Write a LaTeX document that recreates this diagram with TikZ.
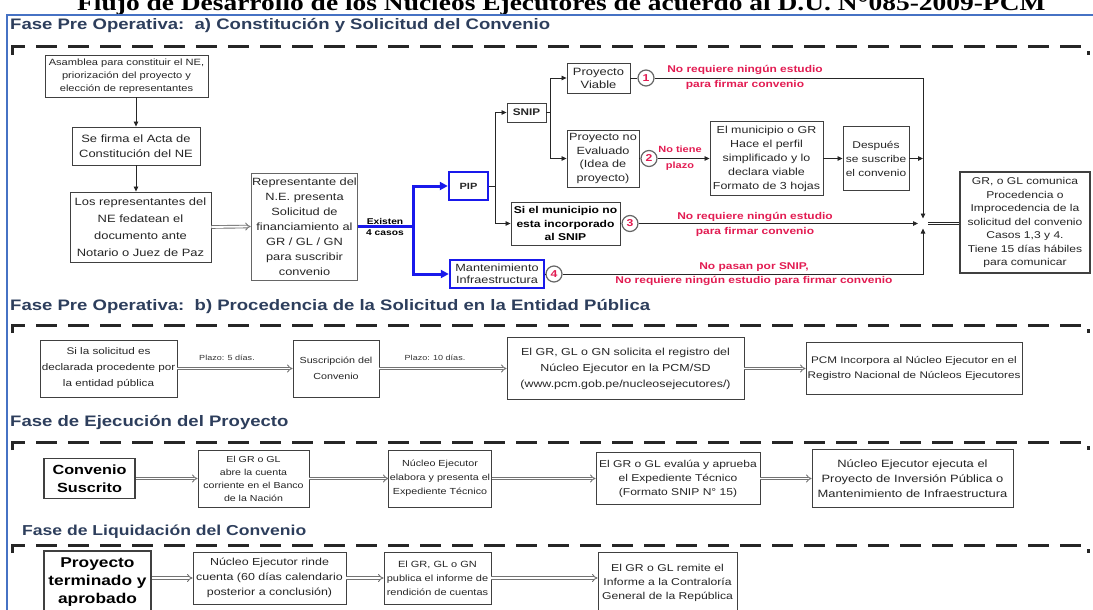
\documentclass[tikz,border=0pt]{standalone}
\usepackage{fontspec}
\setmainfont{Liberation Sans}[FakeStretch=1.22]
\newfontfamily\titlefont{Liberation Serif}[FakeStretch=1.22]
\usetikzlibrary{arrows.meta}
\definecolor{headblue}{RGB}{45,62,92}
\definecolor{frameblue}{RGB}{70,114,196}
\definecolor{pipblue}{RGB}{25,25,235}
\definecolor{notered}{RGB}{226,28,82}
\newcommand{\txtsz}[2]{\fontsize{#1}{#2}\selectfont}
\begin{document}
\begin{tikzpicture}[x=1pt,y=-1pt,
  box/.style={draw=black!75, line width=0.9pt, fill=white, align=center, inner sep=1pt, text=black!85, font=\txtsz{10}{14}},
  bluebox/.style={box, draw=pipblue, line width=2.4pt},
  boldbox/.style={box, line width=1.7pt, text=black},
  head/.style={anchor=west, inner sep=0pt, text=headblue, font=\bfseries\txtsz{15.2}{18}},
  phase/.style={line width=3pt, black!85, dash pattern=on 21pt off 11pt},
  arr/.style={draw=black!85, line width=0.8pt, -{Triangle[length=5pt,width=4.5pt]}},
  link/.style={draw=black!85, line width=0.8pt},
  bluearr/.style={draw=pipblue, line width=3pt, -{Triangle[length=8pt,width=8pt]}},
  dbl/.style={draw=black!55, line width=0.9pt, double=white, double distance=1.8pt, -{Implies}},
  dblthick/.style={draw=black!85, line width=1.2pt, double=white, double distance=1.4pt},
  num/.style={circle, draw=black!60, line width=1.2pt, fill=white, minimum size=16pt, inner sep=0pt, text=notered, font=\bfseries\txtsz{10}{10}},
  note/.style={align=center, inner sep=0pt, text=notered, font=\bfseries\txtsz{9.8}{15}},
  lab/.style={inner sep=0pt, text=black!80, font=\txtsz{7.4}{9}},
]
\path[use as bounding box] (0,0) rectangle (1093,610);
\clip (0,0) rectangle (1093,610);

% title and frame
\node[anchor=base west, inner sep=0pt, font=\titlefont\bfseries\txtsz{22.5}{24}] (title) at (77,11)
  {Flujo de Desarrollo de los Núcleos Ejecutores de acuerdo al D.U. N°085-2009-PCM};
\draw[frameblue, line width=2pt] (7,612) -- (7,15) -- (1095,15);

% phase headings and dashed separators
\node[head] (ha) at (10,26) {Fase Pre Operativa:\ \ a) Constitución y Solicitud del Convenio};
\draw[phase] (12,55) -- (12,47) -- (1088,47) -- (1088,55);
\node[head] (hb) at (10,307) {Fase Pre Operativa:\ \ b) Procedencia de la Solicitud en la Entidad Pública};
\draw[phase] (12,333) -- (12,325) -- (1088,325) -- (1088,333);
\node[head] (hc) at (10,422) {Fase de Ejecución del Proyecto};
\draw[phase] (12,450) -- (12,442) -- (1088,442) -- (1088,450);
\node[head, font=\bfseries\txtsz{14.4}{18}] (hd) at (22,532) {Fase de Liquidación del Convenio};
\draw[phase] (12,553) -- (12,545) -- (1088,545) -- (1088,553);

% ---- a) constitution and request
\node[box, minimum width=163pt, minimum height=42pt, font=\txtsz{9.1}{13}] (A) at (126.5,76)
  {Asamblea para constituir el NE,\\ priorización del proyecto y\\ elección de representantes};
\node[box, minimum width=128pt, minimum height=38pt, font=\txtsz{10.6}{15}] (B) at (136,146)
  {Se firma el Acta de\\ Constitución del NE};
\node[box, minimum width=141pt, minimum height=70pt, font=\txtsz{10.6}{17}] (C) at (140.5,227)
  {Los representantes del\\ NE fedatean el\\ documento ante\\ Notario o Juez de Paz};
\node[box, draw=black!60, minimum width=105pt, minimum height=107pt, font=\txtsz{10.5}{15}] (D) at (304.5,226.5)
  {Representante del\\ N.E. presenta\\ Solicitud de\\ financiamiento al\\ GR / GL / GN\\ para suscribir\\ convenio};
\draw[arr] (B.north |- A.south) -- (B.north);
\draw[arr] (B.south) -- (B.south |- C.north);
\draw[dbl] (C.east) -- (D.west);

\node[bluebox, minimum width=39pt, minimum height=28pt, font=\bfseries\txtsz{9}{12}] (PIP) at (468.5,186) {PIP};
\node[bluebox, minimum width=94pt, minimum height=28pt, font=\txtsz{10.4}{12.5}] (Mant) at (497,274)
  {Mantenimiento\\ Infraestructura};
\coordinate (bsplit) at (413,226.5);
\draw[pipblue, line width=3pt] (D.east) -- (bsplit);
\draw[bluearr] (bsplit) |- (PIP.west);
\draw[bluearr] (bsplit) |- (Mant.west);
\node[align=center, inner sep=0pt, font=\bfseries\txtsz{8.4}{11}] (casos) at (385,226.5) {Existen\\ 4 casos};

\node[box, minimum width=39pt, minimum height=19pt, font=\bfseries\txtsz{9.6}{12}] (SNIP) at (526.5,112.5) {SNIP};
\node[box, minimum width=109pt, minimum height=43pt, text=black, font=\bfseries\txtsz{9.9}{13.5}] (Si) at (565.5,223.5)
  {Si el municipio no\\ esta incorporado\\ al SNIP};
\draw[arr] (PIP.east) -- ++(6,0) |- (SNIP.west);
\draw[arr] (PIP.east) -- ++(6,0) |- (Si.west);

\node[box, minimum width=63pt, minimum height=30pt, font=\txtsz{10.6}{13}] (Viable) at (598.5,78) {Proyecto\\ Viable};
\node[box, minimum width=72pt, minimum height=57pt, font=\txtsz{10.4}{13.5}] (NoEv) at (603,158.5)
  {Proyecto no\\ Evaluado\\ (Idea de\\ proyecto)};
\draw[arr] (SNIP.east) -- ++(4,0) |- (Viable.west);
\draw[arr] (SNIP.east) -- ++(4,0) |- (NoEv.west);

\node[box, minimum width=113pt, minimum height=74pt, font=\txtsz{10.2}{14}] (E) at (766.5,158.5)
  {El municipio o GR\\ Hace el perfil\\ simplificado y lo\\ declara viable\\ Formato de 3 hojas};
\node[box, minimum width=66pt, minimum height=64pt, font=\txtsz{9.8}{14}] (F) at (876,158.5)
  {Después\\ se suscribe\\ el convenio};
\node[box, line width=1.3pt, minimum width=130pt, minimum height=101pt, font=\txtsz{9.9}{13.5}] (GR) at (1025,222.5)
  {GR, o GL comunica\\ Procedencia o\\ Improcedencia de la\\ solicitud del convenio\\ Casos 1,3 y 4.\\ Tiene 15 días hábiles\\ para comunicar};

\node[num] (n1) at (646,78) {1};
\node[num] (n2) at (649,158.5) {2};
\node[num] (n3) at (630,223.5) {3};
\node[num] (n4) at (554,274) {4};
\draw[link] (Viable.east) -- (n1.west);
\draw[link] (NoEv.east) -- (n2.west);
\draw[link] (Si.east) -- (n3.west);
\draw[link] (Mant.east) -- (n4.west);

% merge point in front of the answer box
\coordinate (J) at (923,223.5);
\coordinate (Jt) at (923,218.5);
\coordinate (Jl) at (918,223.5);
\coordinate (Jb) at (923,228.5);
\coordinate (Jr) at (928,223.5);
\draw[arr] (n1.east) -| (Jt);
\draw[arr] (n2.east) -- (E.west);
\draw[arr] (E.east) -- (F.west);
\draw[arr] (F.east) -- (F.east -| J);
\draw[arr] (n3.east) -- (Jl);
\draw[arr] (n4.east) -| (Jb);
\draw[dblthick] (Jr) -- (Jr -| GR.west);

\node[note] (r1) at (745,77.5) {No requiere ningún estudio\\ para firmar convenio};
\node[note, font=\bfseries\txtsz{9}{16}] (r2) at (680,158.5) {No tiene\\ plazo};
\node[note] (r3) at (755,224) {No requiere ningún estudio\\ para firmar convenio};
\node[note, font=\bfseries\txtsz{9.8}{14}] (r4) at (754,274) {No pasan por SNIP,\\ No requiere ningún estudio para firmar convenio};

% ---- b) approval by the public entity
\node[box, minimum width=137pt, minimum height=57pt, font=\txtsz{9.6}{16}] (S1) at (108.5,368.5)
  {Si la solicitud es\\ declarada procedente por\\ la entidad pública};
\node[box, minimum width=86pt, minimum height=57pt, font=\txtsz{8.8}{16}] (S2) at (336,368.5)
  {Suscripción del\\ Convenio};
\node[box, minimum width=237pt, minimum height=62pt, font=\txtsz{10.2}{16}] (S3) at (625.5,368.5)
  {El GR, GL o GN solicita el registro del\\ Núcleo Ejecutor en la PCM/SD\\ (www.pcm.gob.pe/nucleosejecutores/)};
\node[box, minimum width=216pt, minimum height=52pt, font=\txtsz{9.6}{15}] (S4) at (914,368.5)
  {PCM Incorpora al Núcleo Ejecutor en el\\ Registro Nacional de Núcleos Ejecutores};
\draw[dbl] (S1.east) -- (S2.west);
\draw[dbl] (S2.east) -- (S3.west);
\draw[dbl] (S3.east) -- (S4.west);
\node[lab] (p1) at (227,358) {Plazo: 5 días.};
\node[lab] (p2) at (435,358) {Plazo: 10 días.};

% ---- c) execution
\node[boldbox, minimum width=91pt, minimum height=40pt, font=\bfseries\txtsz{13.3}{18}] (Conv) at (89.5,478.5) {Convenio\\ Suscrito};
\node[box, minimum width=111pt, minimum height=57pt, font=\txtsz{8.7}{13}] (c2) at (253.5,478.5)
  {El GR o GL\\ abre la cuenta\\ corriente en el Banco\\ de la Nación};
\node[box, minimum width=102pt, minimum height=57pt, font=\txtsz{8.8}{14}] (c3) at (440,478.5)
  {Núcleo Ejecutor\\ elabora y presenta el\\ Expediente Técnico};
\node[box, minimum width=164pt, minimum height=52pt, font=\txtsz{9.9}{14}] (c4) at (678,478.5)
  {El GR o GL evalúa y aprueba\\ el Expediente Técnico\\ (Formato SNIP N° 15)};
\node[box, minimum width=201pt, minimum height=58pt, font=\txtsz{10.6}{15}] (c5) at (912.5,478.5)
  {Núcleo Ejecutor ejecuta el\\ Proyecto de Inversión Pública o\\ Mantenimiento de Infraestructura};
\draw[dbl] (Conv.east) -- (c2.west);
\draw[dbl] (c2.east) -- (c3.west);
\draw[dbl] (c3.east) -- (c4.west);
\draw[dbl] (c4.east) -- (c5.west);

% ---- d) settlement
\node[boldbox, minimum width=107pt, minimum height=62pt, font=\bfseries\txtsz{14.2}{18}] (d1) at (97.5,582) {Proyecto\\ terminado y\\ aprobado};
\node[box, minimum width=153pt, minimum height=52pt, font=\txtsz{10.2}{15}] (d2) at (269.5,578)
  {Núcleo Ejecutor rinde\\ cuenta (60 días calendario\\ posterior a conclusión)};
\node[box, minimum width=107pt, minimum height=52pt, font=\txtsz{9}{14}] (d3) at (437.5,578)
  {El GR, GL o GN\\ publica el informe de\\ rendición de cuentas};
\node[box, minimum width=139pt, minimum height=62pt, font=\txtsz{10}{14}] (d4) at (667.5,583)
  {El GR o GL remite el\\ Informe a la Contraloría\\ General de la República};
\draw[dbl] (d1.east |- d2.west) -- (d2.west);
\draw[dbl] (d2.east) -- (d3.west);
\draw[dbl] (d3.east) -- (d3.east -| d4.west);
\end{tikzpicture}
\end{document}
